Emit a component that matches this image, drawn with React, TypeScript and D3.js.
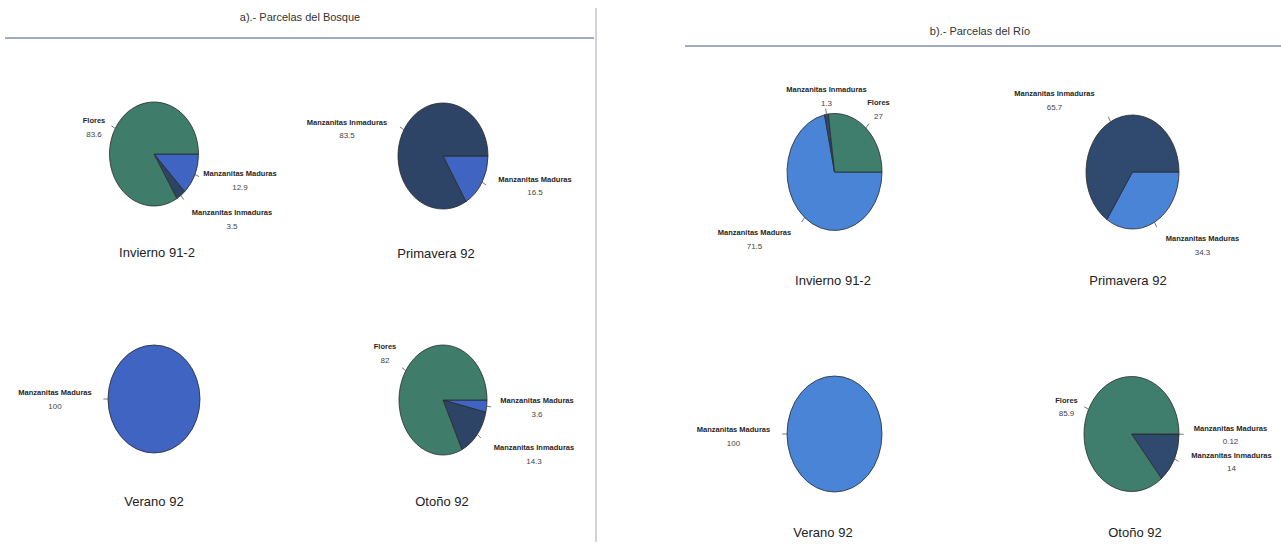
import React from "react";
import * as d3 from "d3";

// Categories shared by every pie (drawing order, clockwise from 3 o'clock)
const categories = ["Manzanitas Maduras", "Manzanitas Inmaduras", "Flores"];
const seasons = ["Invierno 91-2", "Primavera 92", "Verano 92", "Otoño 92"];

// Percentages per season, in category order
const bosqueValues = [
  [12.9, 3.5, 83.6],
  [16.5, 83.5, 0],
  [100, 0, 0],
  [3.6, 14.3, 82],
];
const rioValues = [
  [71.5, 1.3, 27],
  [34.3, 65.7, 0],
  [100, 0, 0],
  [0.12, 14, 85.9],
];

const panelTitles = ["a).- Parcelas del Bosque", "b).- Parcelas del Río"];

// Layout: pie centre, radii, caption position, label offsets (name line centre relative to pie centre)
type PieLayout = {
  cx: number;
  cy: number;
  rx: number;
  ry: number;
  capX: number;
  capY: number;
  labels: ([number, number] | null)[];
  gap: number;
  fs: number;
};

const bosqueLayout: PieLayout[] = [
  { cx: 154, cy: 154, rx: 44.5, ry: 52, capX: 157, capY: 257, labels: [[86, 19], [78, 58], [-60, -34]], gap: 14, fs: 7.5 },
  { cx: 443, cy: 156, rx: 45, ry: 53, capX: 436, capY: 258, labels: [[92, 23], [-96, -34], null], gap: 13, fs: 7.5 },
  { cx: 154, cy: 399, rx: 46, ry: 54, capX: 154, capY: 506, labels: [[-99, -7], null, null], gap: 14, fs: 7.5 },
  { cx: 443, cy: 400, rx: 44, ry: 55, capX: 442, capY: 506, labels: [[94, 0], [91, 47], [-58, -54]], gap: 14, fs: 7.5 },
];
const rioLayout: PieLayout[] = [
  { cx: 834.5, cy: 172, rx: 47.5, ry: 58.5, capX: 833, capY: 285, labels: [[-80, 60], [-8, -83], [44, -70]], gap: 14, fs: 7.5 },
  { cx: 1132.5, cy: 172, rx: 46.5, ry: 57, capX: 1128, capY: 285, labels: [[70, 66], [-78, -79], null], gap: 14, fs: 7.5 },
  { cx: 834.5, cy: 434, rx: 47.5, ry: 58, capX: 823, capY: 537, labels: [[-101, -5], null, null], gap: 14, fs: 7.5 },
  { cx: 1131.5, cy: 434, rx: 47.5, ry: 57.5, capX: 1135, capY: 537, labels: [[99, -6], [100, 21], [-65, -34]], gap: 13, fs: 7.5 },
];

const bosqueColors = ["#3f64c2", "#2e4466", "#3f7c6a"];
const rioColors = ["#4a84d6", "#2f4a6e", "#3f7d6d"];

const FONT = "Arial, 'Liberation Sans', sans-serif";

const pieGen = d3
  .pie<number>()
  .sort(null)
  .value((d) => d)
  .startAngle(Math.PI / 2)
  .endAngle(Math.PI / 2 + 2 * Math.PI);

const unitArc = d3.arc<d3.PieArcDatum<number>>().innerRadius(0).outerRadius(1);

function Pie({ values, layout, colors, caption }: { values: number[]; layout: PieLayout; colors: string[]; caption: string }) {
  const arcs = pieGen(values);
  const { cx, cy, rx, ry } = layout;
  return (
    <g>
      <g transform={`translate(${cx},${cy}) scale(${rx},${ry})`}>
        {arcs.map((a, i) =>
          a.value > 0 ? (
            <path
              key={i}
              d={unitArc(a) || ""}
              fill={colors[i]}
              stroke="#2a2a2a"
              strokeWidth={0.8}
              vectorEffect="non-scaling-stroke"
            />
          ) : null
        )}
      </g>
      {arcs.map((a, i) => {
        const off = layout.labels[i];
        if (!off || a.value <= 0) return null;
        const mid = (a.startAngle + a.endAngle) / 2;
        const ex = cx + rx * Math.sin(mid);
        const ey = cy - ry * Math.cos(mid);
        const ox = cx + rx * 1.1 * Math.sin(mid);
        const oy = cy - ry * 1.1 * Math.cos(mid);
        const lx = cx + off[0];
        const ly = cy + off[1];
        return (
          <g key={`l${i}`}>
            <line x1={ex} y1={ey} x2={ox} y2={oy} stroke="#555" strokeWidth={0.8} />
            <text
              x={lx}
              y={ly + layout.fs * 0.36}
              textAnchor="middle"
              fontFamily={FONT}
              fontSize={layout.fs}
              fontWeight="bold"
              fill="#262626"
            >
              {categories[i]}
            </text>
            <text
              x={lx}
              y={ly + layout.gap + layout.fs * 0.36}
              textAnchor="middle"
              fontFamily={FONT}
              fontSize={layout.fs + 0.5}
              fill="#444"
            >
              {String(a.value)}
            </text>
          </g>
        );
      })}
      <text x={layout.capX} y={layout.capY} textAnchor="middle" fontFamily={FONT} fontSize={13} fill="#222">
        {caption}
      </text>
    </g>
  );
}

export default function App() {
  return (
    <svg
      width={1281}
      height={550}
      style={{ position: "absolute", left: 0, top: 0, background: "#fff" }}
    >
      <rect x={0} y={0} width={1281} height={550} fill="#fff" />
      {/* Panel a */}
      <text x={300} y={21} textAnchor="middle" fontFamily={FONT} fontSize={11} fill="#333">
        {panelTitles[0]}
      </text>
      <line x1={5} y1={38} x2={594} y2={38} stroke="#45578a" strokeWidth={1.2} />
      <line x1={596} y1={8} x2={596} y2={542} stroke="#b5b5b5" strokeWidth={1.2} />
      {seasons.map((s, i) => (
        <Pie key={`a${i}`} values={bosqueValues[i]} layout={bosqueLayout[i]} colors={bosqueColors} caption={s} />
      ))}
      {/* Panel b */}
      <text x={980} y={35} textAnchor="middle" fontFamily={FONT} fontSize={11} fill="#333">
        {panelTitles[1]}
      </text>
      <line x1={685} y1={46} x2={1281} y2={46} stroke="#45578a" strokeWidth={1.2} />
      {seasons.map((s, i) => (
        <Pie key={`b${i}`} values={rioValues[i]} layout={rioLayout[i]} colors={rioColors} caption={s} />
      ))}
    </svg>
  );
}
